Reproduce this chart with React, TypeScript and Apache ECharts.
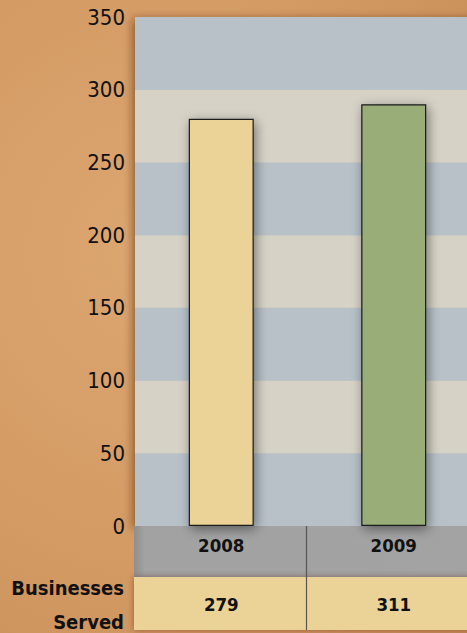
import React, { useEffect, useRef } from "react";
import * as echarts from "echarts";

const years = ["2008", "2009"];
const barValues = [280, 290];
const tableValues = ["279", "311"];
const rowLabel = "Businesses\nServed";
const yTicks = { min: 0, max: 350, interval: 50 };
const barColors = ["#ebd398", "#99ad78"];

const FONT = "'Liberation Sans Narrow', 'DejaVu Sans Condensed', 'Arial Narrow', sans-serif";

export default function App() {
  const ref = useRef<HTMLDivElement>(null);
  useEffect(() => {
    const el = ref.current!;
    const chart = echarts.init(el, null, { renderer: "svg" });
    const CW = 490;
    const gridLeft = 135, gridTop = 17, gridBottomY = 526, gridWidth = 345;
    const rowH = 51;
    chart.setOption({
      animation: false,
      textStyle: { fontFamily: FONT },
      grid: {
        left: gridLeft,
        top: gridTop,
        width: gridWidth,
        height: gridBottomY - gridTop,
        show: true,
        backgroundColor: "#b8c1c8",
        borderWidth: 0,
        shadowBlur: 10,
        shadowColor: "rgba(60,30,0,0.55)",
        shadowOffsetX: -2,
        shadowOffsetY: 2,
      },
      xAxis: [
        {
          type: "category",
          z: 8,
          data: years,
          axisLine: { show: false },
          axisTick: { show: false },
          axisLabel: { margin: 10, fontSize: 18.5, fontWeight: "bold", color: "#111", fontFamily: FONT },
        },
        {
          type: "category",
          z: 8,
          data: tableValues,
          position: "bottom",
          axisLine: { show: false },
          axisTick: { show: false },
          axisLabel: { margin: 69, fontSize: 18.5, fontWeight: "bold", color: "#111", fontFamily: FONT },
        },
      ],
      yAxis: {
        type: "value",
        min: yTicks.min,
        max: yTicks.max,
        interval: yTicks.interval,
        axisLine: { show: false },
        axisTick: { show: false },
        splitLine: { show: false },
        splitArea: { show: true, areaStyle: { color: ["#b8c1c8", "#d6d2c6"] } },
        axisLabel: { margin: 10, fontSize: 22, color: "#111", fontFamily: FONT },
      },
      series: [
        {
          type: "bar",
          z: 3,
          barWidth: 65,
          data: barValues.map((v, i) => ({
            value: v,
            itemStyle: {
              color: barColors[i],
              borderColor: "#1a1a1a",
              borderWidth: 1.2,
              shadowBlur: 12,
              shadowColor: "rgba(0,0,0,0.45)",
              shadowOffsetX: 2,
              shadowOffsetY: 3,
            },
          })),
        },
      ],
      graphic: [
        {
          type: "rect",
          z: 1,
          shape: { x: gridLeft - 1, y: gridBottomY, width: CW - gridLeft + 1, height: rowH },
          style: {
            fill: new echarts.graphic.LinearGradient(0, 0, 1, 0, [
              { offset: 0, color: "#8f8f8f" },
              { offset: 0.03, color: "#a2a2a2" },
              { offset: 1, color: "#a3a3a3" },
            ]),
          },
        },
        {
          type: "rect",
          z: 1,
          shape: { x: gridLeft - 1, y: gridBottomY + rowH, width: CW - gridLeft + 1, height: 53 },
          style: { fill: "#ebd398", shadowBlur: 6, shadowColor: "rgba(60,30,0,0.4)" },
        },
        {
          type: "line",
          z: 5,
          shape: {
            x1: gridLeft + gridWidth / 2 - 1,
            y1: gridBottomY,
            x2: gridLeft + gridWidth / 2 - 1,
            y2: gridBottomY + rowH + 53,
          },
          style: { stroke: "#555", lineWidth: 1.2 },
        },
        {
          type: "text",
          z: 5,
          x: 124,
          y: 605,
          style: {
            text: rowLabel,
            align: "right",
            verticalAlign: "middle",
            font: "bold 20px " + FONT,
            lineHeight: 34,
            fill: "#111",
          },
        },
      ],
    });
    return () => chart.dispose();
  }, []);
  return (
    <div
      style={{
        position: "absolute",
        left: 0,
        top: 0,
        width: 467,
        height: 633,
        overflow: "hidden",
        background:
          "radial-gradient(ellipse at 30% 40%, #dca671 0%, #d49b64 55%, #c98e58 100%)",
      }}
    >
      <div ref={ref} style={{ width: 490, height: 633 }} />
    </div>
  );
}
